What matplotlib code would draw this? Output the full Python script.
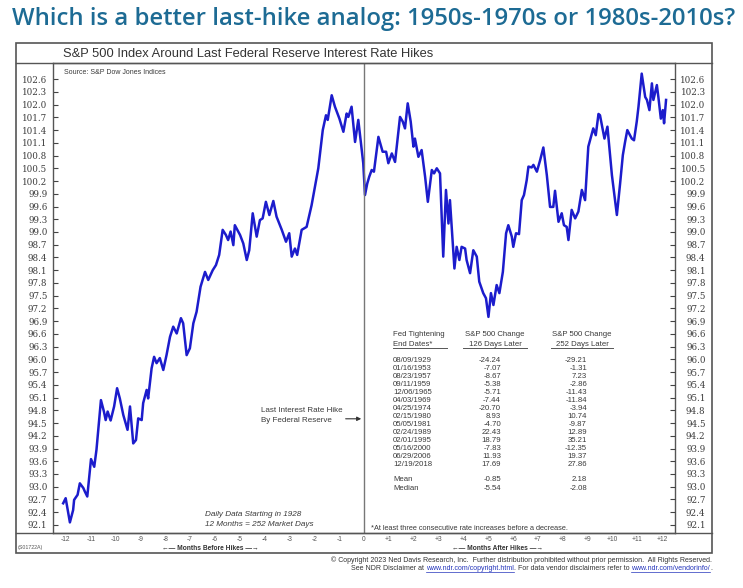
import numpy as np
import matplotlib
matplotlib.use("Agg")
import matplotlib.pyplot as plt
from matplotlib.patches import Rectangle
from matplotlib.lines import Line2D

# composite S&P 500 path around the last hike (months from hike, index = 100 at hike)
months = [-12.11, -12.01, -11.84, -11.71, -11.67, -11.53, -11.44, -11.30, -11.24, -11.14,
          -10.99, -10.86, -10.77, -10.59, -10.47, -10.40, -10.32, -10.20, -10.06, -9.94,
          -9.83, -9.69, -9.52, -9.42, -9.29, -9.18, -9.09, -8.95, -8.89, -8.75,
          -8.69, -8.55, -8.45, -8.35, -8.22, -8.08, -7.95, -7.81, -7.68, -7.54,
          -7.37, -7.28, -7.14, -7.01, -6.87, -6.74, -6.58, -6.40, -6.27, -6.09,
          -5.96, -5.83, -5.69, -5.56, -5.47, -5.37, -5.26, -5.20, -4.99, -4.86,
          -4.72, -4.62, -4.48, -4.32, -4.19, -4.08, -3.95, -3.81, -3.65, -3.52,
          -3.31, -3.14, -3.01, -2.91, -2.78, -2.69, -2.51, -2.31, -2.11, -1.84,
          -1.66, -1.53, -1.46, -1.30, -1.17, -0.99, -0.83, -0.70, -0.63, -0.50,
          -0.36, -0.23, -0.13, -0.03, 0.04, 0.13, 0.21, 0.31, 0.40, 0.58,
          0.75, 0.89, 0.98, 1.12, 1.25, 1.45, 1.56, 1.65, 1.76, 1.88,
          1.99, 2.05, 2.19, 2.32, 2.46, 2.57, 2.73, 2.82, 2.93, 3.06,
          3.19, 3.30, 3.40, 3.46, 3.64, 3.73, 3.84, 3.93, 4.07, 4.13,
          4.27, 4.40, 4.54, 4.64, 4.80, 4.91, 5.01, 5.11, 5.21, 5.34,
          5.45, 5.59, 5.72, 5.81, 5.95, 6.01, 6.12, 6.24, 6.35, 6.44,
          6.55, 6.62, 6.75, 6.82, 6.96, 7.09, 7.22, 7.36, 7.49, 7.62,
          7.69, 7.83, 7.96, 8.05, 8.16, 8.23, 8.36, 8.50, 8.63, 8.77,
          8.90, 9.03, 9.23, 9.33, 9.44, 9.50, 9.68, 9.80, 9.98, 10.07,
          10.18, 10.31, 10.42, 10.51, 10.60, 10.71, 10.78, 10.87, 10.98, 11.05,
          11.18, 11.32, 11.39, 11.49, 11.59, 11.65, 11.79, 11.85, 11.95, 12.03,
          12.08, 12.16]
index_vals = [92.61, 92.73, 92.16, 92.45, 92.69, 92.81, 93.08, 92.97, 92.89, 92.77,
              93.65, 93.47, 93.87, 95.04, 94.77, 94.57, 94.77, 94.56, 94.89, 95.32,
              95.08, 94.69, 94.34, 94.89, 94.02, 94.10, 94.61, 94.57, 94.97, 95.28,
              95.08, 95.79, 96.06, 95.91, 96.03, 95.75, 96.10, 96.53, 96.77, 96.61,
              96.97, 96.85, 96.10, 96.26, 96.85, 97.12, 97.71, 98.06, 97.87, 98.10,
              98.22, 98.46, 99.05, 98.93, 98.81, 99.01, 98.69, 99.16, 98.93, 98.73,
              98.34, 98.57, 99.44, 98.89, 99.28, 99.32, 99.71, 99.40, 99.73, 99.36,
              99.05, 98.77, 98.97, 98.42, 98.61, 98.46, 99.05, 99.12, 99.63, 100.50,
              101.40, 101.75, 101.64, 102.22, 101.95, 101.67, 101.36, 101.79, 101.71, 101.95,
              101.12, 101.64, 101.12, 100.62, 99.87, 100.14, 100.30, 100.46, 100.42, 101.24,
              100.89, 100.89, 100.62, 100.85, 100.65, 101.71, 101.60, 101.44, 102.03, 101.60,
              101.01, 101.20, 100.77, 100.93, 100.30, 99.71, 100.46, 100.38, 100.50, 100.38,
              98.42, 99.99, 99.20, 99.75, 98.14, 98.65, 98.34, 98.65, 98.61, 98.34,
              98.03, 98.57, 98.42, 97.83, 97.56, 97.44, 97.00, 97.56, 97.28, 97.75,
              97.56, 98.06, 98.97, 99.16, 98.89, 98.65, 98.97, 98.95, 99.75, 99.87,
              100.22, 100.54, 100.52, 100.58, 100.42, 100.69, 100.99, 100.34, 99.59, 99.59,
              99.97, 99.24, 99.44, 99.16, 99.12, 98.81, 99.52, 99.32, 99.48, 99.99,
              99.75, 101.01, 101.44, 101.28, 101.78, 101.75, 101.20, 101.48, 100.34, 99.91,
              99.40, 100.14, 100.81, 101.12, 101.40, 101.28, 101.20, 101.16, 101.60, 101.95,
              102.73, 102.18, 102.11, 101.87, 102.50, 102.11, 102.46, 102.18, 101.67, 101.87,
              101.56, 102.11]

y_ticks = [92.1, 92.4, 92.7, 93.0, 93.3, 93.6, 93.9, 94.2, 94.5, 94.8, 95.1, 95.4,
           95.7, 96.0, 96.3, 96.6, 96.9, 97.2, 97.5, 97.8, 98.1, 98.4, 98.7, 99.0,
           99.3, 99.6, 99.9, 100.2, 100.5, 100.8, 101.1, 101.4, 101.7, 102.0, 102.3, 102.6]
x_ticks = list(range(-12, 13))
x_labels = ["-12", "-11", "-10", "-9", "-8", "-7", "-6", "-5", "-4", "-3", "-2", "-1", "0",
            "+1", "+2", "+3", "+4", "+5", "+6", "+7", "+8", "+9", "+10", "+11", "+12"]

# table of tightening cycles
end_dates = ["08/09/1929", "01/16/1953", "08/23/1957", "09/11/1959", "12/06/1965",
             "04/03/1969", "04/25/1974", "02/15/1980", "05/05/1981", "02/24/1989",
             "02/01/1995", "05/16/2000", "06/29/2006", "12/19/2018"]
chg_126 = ["-24.24", "-7.07", "-8.67", "-5.38", "-5.71", "-7.44", "-20.70",
           "8.93", "-4.70", "22.43", "18.79", "-7.83", "11.93", "17.69"]
chg_252 = ["-29.21", "-1.31", "7.23", "-2.86", "-11.43", "-11.84", "-3.94",
           "10.74", "-9.87", "12.89", "35.21", "-12.35", "19.37", "27.86"]
summary_names = ["Mean", "Median"]
summary_126 = ["-0.85", "-5.54"]
summary_252 = ["2.18", "-2.08"]

W, H = 743, 588
fig = plt.figure(figsize=(W / 100, H / 100), dpi=100)
fig.patch.set_facecolor("white")

def fx(px):
    return px / W

def fy(py):
    return 1 - py / H

sans = "Liberation Sans"
grey = "#3a3a3a"
blue = "#1c1ccc"

# main axes
ax = fig.add_axes([fx(53), fy(533), (675 - 53) / W, (533 - 63) / H])
ax.plot(months, index_vals, color=blue, lw=1.8, solid_joinstyle="round")
ax.axvline(0, color="#777777", lw=1.0)
ax.set_xlim(-12.52, 12.52)
ax.set_ylim(91.91, 102.98)
ax.set_yticks(y_ticks)
ax.set_yticklabels([f"{v:.1f}" for v in y_ticks], family="DejaVu Serif", fontsize=6.3, color="#3c3c3c")
ax.tick_params(axis="y", direction="in", length=3.5, width=0.8, color="#444444", pad=4)
ax.set_xticks(x_ticks)
ax.set_xticklabels(x_labels, family=sans, fontsize=4.8, color="#555555")
ax.tick_params(axis="x", length=0, pad=2.5)
for s in ax.spines.values():
    s.set_color("#555555")
    s.set_linewidth(1.0)

ax2 = ax.twinx()
ax2.set_ylim(ax.get_ylim())
ax2.set_yticks(y_ticks)
ax2.set_yticklabels([f"{v:.1f}" for v in y_ticks], family="DejaVu Serif", fontsize=6.3,
                    color="#3c3c3c", ha="right")
ax2.tick_params(axis="y", direction="in", length=3.5, width=0.8, color="#444444", pad=22)
for s in ax2.spines.values():
    s.set_visible(False)

# panel frame
fig.add_artist(Rectangle((fx(16), fy(553)), (712 - 16) / W, (553 - 43) / H,
                         transform=fig.transFigure, fill=False, ec="#555555", lw=1.2))
for yy in (63, 533):
    fig.add_artist(Line2D([fx(16), fx(712)], [fy(yy), fy(yy)], transform=fig.transFigure,
                          color="#555555", lw=1.0))

# headline and titles
fig.text(fx(12), fy(19), "Which is a better last-hike analog: 1950s-1970s or 1980s-2010s?",
         family="Open Sans", weight="semibold", fontsize=17.2, color="#1d6b94", va="center")
fig.text(fx(63), fy(54), "S&P 500 Index Around Last Federal Reserve Interest Rate Hikes",
         family=sans, fontsize=9.3, color="#333333", va="center")
fig.text(fx(64), fy(73), "Source: S&P Dow Jones Indices", family=sans, fontsize=5.0,
         color=grey, va="center")

# annotations inside plot
fig.text(fx(261), fy(411), "Last Interest Rate Hike", family=sans, fontsize=5.8, color=grey, va="center")
fig.text(fx(261), fy(421), "By Federal Reserve", family=sans, fontsize=5.8, color=grey, va="center")
ax.annotate("", xy=(0, 94.6), xytext=(-0.85, 94.6),
            arrowprops=dict(arrowstyle="-|>", color="#333333", lw=0.8, mutation_scale=6))
fig.text(fx(205), fy(514), "Daily Data Starting in 1928", family=sans, style="italic",
         fontsize=5.9, color=grey, va="center")
fig.text(fx(205), fy(524), "12 Months = 252 Market Days", family=sans, style="italic",
         fontsize=5.9, color=grey, va="center")

# table
tfs = 5.6
fig.text(fx(393), fy(334), "Fed Tightening", family=sans, fontsize=tfs, color=grey, va="center")
fig.text(fx(393), fy(344), "End Dates*", family=sans, fontsize=tfs, color=grey, va="center")
fig.text(fx(495), fy(334), "S&P 500 Change", family=sans, fontsize=tfs, color=grey, va="center", ha="center")
fig.text(fx(495), fy(344), "126 Days Later", family=sans, fontsize=tfs, color=grey, va="center", ha="center")
fig.text(fx(582), fy(334), "S&P 500 Change", family=sans, fontsize=tfs, color=grey, va="center", ha="center")
fig.text(fx(582), fy(344), "252 Days Later", family=sans, fontsize=tfs, color=grey, va="center", ha="center")
for x0, x1 in ((393, 447), (463, 527), (551, 613)):
    fig.add_artist(Line2D([fx(x0), fx(x1)], [fy(348), fy(348)], transform=fig.transFigure,
                          color="#555555", lw=0.7))
for i, d in enumerate(end_dates):
    yy = 360 + i * 8.06
    fig.text(fx(393), fy(yy), d, family=sans, fontsize=tfs, color=grey, va="center")
    fig.text(fx(501), fy(yy), chg_126[i], family=sans, fontsize=tfs, color=grey, va="center", ha="right")
    fig.text(fx(587), fy(yy), chg_252[i], family=sans, fontsize=tfs, color=grey, va="center", ha="right")
for i, name in enumerate(summary_names):
    yy = 479.5 + i * 9.5
    fig.text(fx(393), fy(yy), name, family=sans, fontsize=tfs, color=grey, va="center")
    fig.text(fx(501), fy(yy), summary_126[i], family=sans, fontsize=tfs, color=grey, va="center", ha="right")
    fig.text(fx(587), fy(yy), summary_252[i], family=sans, fontsize=tfs, color=grey, va="center", ha="right")
fig.text(fx(371), fy(528.5), "*At least three consecutive rate increases before a decrease.",
         family=sans, fontsize=5.3, color=grey, va="center")

# bottom band
fig.text(fx(18), fy(548), "(S01722A)", family=sans, fontsize=3.8, color="#555555", va="center")
fig.text(fx(210), fy(548), "\u2190\u2014 Months Before Hikes \u2014\u2192", family=sans,
         weight="bold", fontsize=4.8, color="#333333", va="center", ha="center")
fig.text(fx(497), fy(548), "\u2190\u2014 Months After Hikes \u2014\u2192", family=sans,
         weight="bold", fontsize=4.8, color="#333333", va="center", ha="center")

# footer, right aligned, with blue links
ffs = 5.0
fig.text(fx(712), fy(560), "\u00a9 Copyright 2023 Ned Davis Research, Inc.  Further distribution "
         "prohibited without prior permission.  All Rights Reserved.",
         family=sans, fontsize=ffs, color="#333333", va="center", ha="right")
pieces = [("See NDR Disclaimer at ", False), ("www.ndr.com/copyright.html", True),
          (". For data vendor disclaimers refer to ", False), ("www.ndr.com/vendorinfo/", True),
          (".", False)]
renderer = fig.canvas.get_renderer()
xr = fx(712)
for txt, link in reversed(pieces):
    t = fig.text(xr, fy(568), txt, family=sans, fontsize=ffs, va="center", ha="right",
                 color="#2233bb" if link else "#333333")
    bb = t.get_window_extent(renderer).transformed(fig.transFigure.inverted())
    if link:
        fig.add_artist(Line2D([bb.x0, bb.x1], [fy(571.5), fy(571.5)], transform=fig.transFigure,
                              color="#2233bb", lw=0.5))
    xr = bb.x0

fig.savefig("out.png", dpi=100)
